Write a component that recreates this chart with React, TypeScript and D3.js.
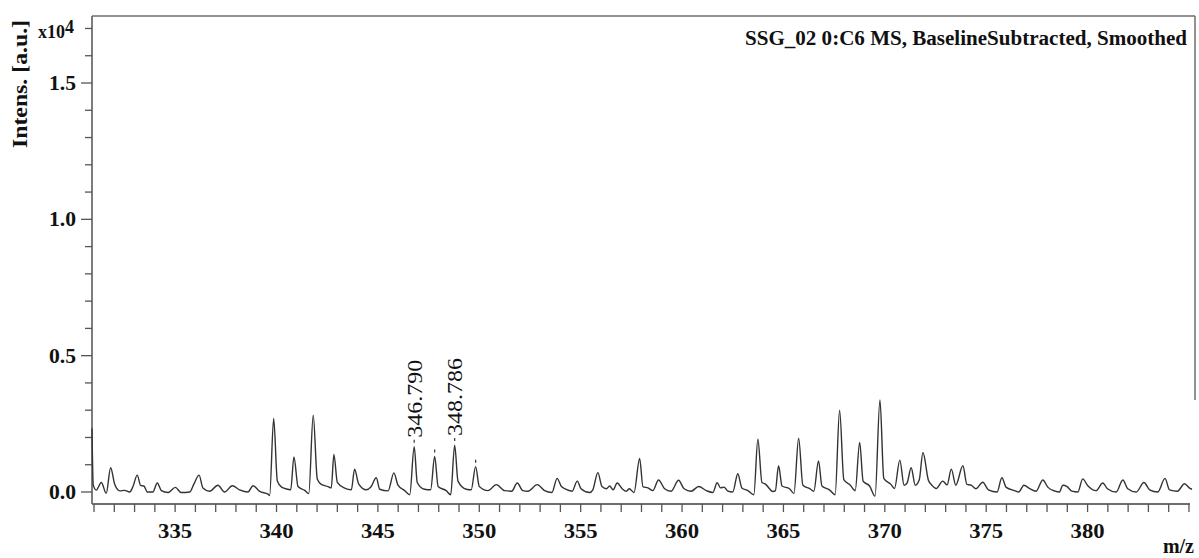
import React from "react";
import * as d3 from "d3";

// Mass spectrum trace: [m/z, intensity (x10^4 a.u.)]
const spectrum: [number, number][] = [
  [330.9, 0.233], [330.96, 0.026], [331.11, 0.007], [331.36, 0.035], [331.6, -0.005],
  [331.82, 0.089], [332.02, 0.028], [332.27, 0.004], [332.5, 0.006], [332.76, 0.0],
  [332.92, 0.02], [333.13, 0.062], [333.3, 0.024], [333.46, 0.022], [333.63, 0.0],
  [333.9, 0.0], [334.12, 0.033], [334.32, 0.005], [334.65, -0.002], [335.01, 0.017],
  [335.3, -0.002], [335.72, 0.0], [335.93, 0.03], [336.18, 0.062], [336.37, 0.015],
  [336.7, 0.003], [337.11, 0.025], [337.44, 0.0], [337.82, 0.023], [338.18, 0.008],
  [338.59, 0.0], [338.84, 0.023], [339.17, 0.002], [339.58, -0.008], [339.66, -0.013],
  [339.86, 0.27], [340.04, 0.04], [340.25, 0.018], [340.57, 0.01], [340.7, 0.008],
  [340.86, 0.129], [341.06, 0.02], [341.39, 0.006], [341.59, -0.006], [341.81, 0.282],
  [342.01, 0.048], [342.21, 0.028], [342.54, 0.02], [342.7, 0.015], [342.83, 0.138],
  [343.0, 0.035], [343.36, 0.014], [343.69, 0.008], [343.85, 0.084], [344.05, 0.03],
  [344.43, 0.008], [344.65, 0.018], [344.92, 0.052], [345.09, 0.01], [345.5, 0.004],
  [345.79, 0.07], [345.99, 0.025], [346.32, 0.005], [346.57, -0.01], [346.79, 0.166],
  [346.94, 0.035], [347.3, 0.01], [347.6, 0.008], [347.8, 0.13], [347.97, 0.02],
  [348.37, 0.005], [348.59, -0.01], [348.786, 0.172], [348.95, 0.04], [349.36, 0.01],
  [349.6, 0.008], [349.82, 0.093], [350.0, 0.02], [350.43, 0.005], [350.84, 0.027],
  [351.25, 0.005], [351.6, 0.003], [351.87, 0.033], [352.15, 0.005], [352.4, 0.003],
  [352.86, 0.027], [353.22, 0.005], [353.58, -0.002], [353.84, 0.05], [354.05, 0.02],
  [354.45, 0.005], [354.58, 0.003], [354.83, 0.04], [355.02, 0.012], [355.44, -0.002],
  [355.6, 0.008], [355.85, 0.071], [356.05, 0.02], [356.27, 0.012], [356.43, 0.022],
  [356.6, 0.008], [356.8, 0.033], [357.05, 0.012], [357.25, 0.003], [357.4, 0.012],
  [357.63, -0.002], [357.91, 0.123], [358.07, 0.02], [358.32, 0.015], [358.56, 0.005],
  [358.84, 0.044], [359.14, 0.012], [359.46, 0.003], [359.83, 0.043], [360.1, 0.012],
  [360.45, 0.003], [360.82, 0.02], [361.2, 0.005], [361.52, -0.002], [361.73, 0.034],
  [361.9, 0.015], [362.07, 0.018], [362.26, 0.003], [362.5, 0.0], [362.75, 0.067],
  [362.95, 0.015], [363.25, 0.005], [363.54, -0.01], [363.74, 0.194], [363.94, 0.035],
  [364.1, 0.03], [364.48, 0.002], [364.6, 0.004], [364.76, 0.096], [364.93, 0.022],
  [365.3, 0.012], [365.52, -0.005], [365.75, 0.197], [365.96, 0.025], [366.3, 0.012],
  [366.5, 0.003], [366.73, 0.114], [366.9, 0.022], [367.27, 0.008], [367.55, -0.01],
  [367.77, 0.3], [367.98, 0.045], [368.3, 0.025], [368.54, 0.005], [368.76, 0.182],
  [368.93, 0.04], [369.25, 0.022], [369.52, -0.015], [369.76, 0.338], [369.95, 0.05],
  [370.3, 0.028], [370.48, 0.013], [370.74, 0.117], [370.95, 0.025], [371.1, 0.033],
  [371.3, 0.089], [371.5, 0.025], [371.7, 0.045], [371.88, 0.145], [372.15, 0.043],
  [372.32, 0.025], [372.53, 0.013], [372.86, 0.04], [373.07, 0.026], [373.28, 0.084],
  [373.5, 0.025], [373.85, 0.096], [374.05, 0.028], [374.26, 0.025], [374.5, 0.012],
  [374.83, 0.036], [375.11, 0.008], [375.54, 0.0], [375.77, 0.052], [375.99, 0.017],
  [376.4, 0.005], [376.6, 0.0], [376.86, 0.025], [377.15, 0.012], [377.46, 0.003],
  [377.79, 0.044], [378.05, 0.017], [378.4, 0.003], [378.61, 0.0], [378.78, 0.025],
  [378.99, 0.02], [379.22, 0.003], [379.52, 0.0], [379.76, 0.048], [380.0, 0.024],
  [380.42, 0.005], [380.75, 0.033], [380.98, 0.012], [381.41, 0.0], [381.74, 0.044],
  [381.98, 0.012], [382.4, 0.0], [382.78, 0.035], [383.06, 0.008], [383.46, 0.0],
  [383.82, 0.05], [384.04, 0.008], [384.43, 0.003], [384.78, 0.03], [385.05, 0.013],
  [385.15, 0.01],
];

// Annotated peaks (m/z, apex intensity)
const labeledPeaks: [number, number][] = [
  [346.79, 0.166],
  [348.786, 0.172],
];
// Peaks flagged with a marker only
const markedPeaks: [number, number][] = [
  [347.8, 0.13],
  [349.82, 0.093],
];

const xMajorTicks = [335, 340, 345, 350, 355, 360, 365, 370, 375, 380];
const yMajorTicks = [0, 0.5, 1.0, 1.5];

const title = "SSG_02 0:C6 MS, BaselineSubtracted, Smoothed";
const yTitle = "Intens. [a.u.]";
const xTitle = "m/z";

const W = 1199;
const H = 558;
const FONT = "'Liberation Serif', 'Times New Roman', serif";

export default function App() {
  const x = d3.scaleLinear().domain([330.9, 385.15]).range([92, 1192]);
  const y = d3.scaleLinear().domain([0, 1.5]).range([492, 83]);
  const axisY = 504;
  const topY = 16;

  const line = d3
    .line<[number, number]>()
    .x((d) => x(d[0]))
    .y((d) => y(d[1]))
    .curve(d3.curveMonotoneX);

  const xMinor = d3.range(331, 386);
  const yMinor = d3.range(0, 18).map((i) => i / 10);

  const axisColor = "#6e6e6e";
  const tickColor = "#555";

  return (
    <svg
      width={W}
      height={H}
      style={{ position: "fixed", left: 0, top: 0, background: "#fff" }}
      fontFamily={FONT}
    >
      <rect x={0} y={0} width={W} height={H} fill="#fff" />

      {/* frame */}
      <line x1={92} x2={1195} y1={topY} y2={topY} stroke={axisColor} strokeWidth={1.5} />
      <line x1={1195} x2={1195} y1={topY} y2={400} stroke={axisColor} strokeWidth={1.5} />
      <line x1={92} x2={92} y1={topY} y2={axisY} stroke={axisColor} strokeWidth={1.8} />
      <line x1={92} x2={1190} y1={axisY} y2={axisY} stroke={axisColor} strokeWidth={1.8} />

      {/* y ticks */}
      {yMinor.map((v) => {
        const major = yMajorTicks.some((m) => Math.abs(m - v) < 1e-6);
        return (
          <line
            key={"yt" + v}
            x1={major ? 81 : 85}
            x2={92}
            y1={y(v)}
            y2={y(v)}
            stroke={tickColor}
            strokeWidth={1.3}
          />
        );
      })}
      {yMajorTicks.map((v) => (
        <text
          key={"yl" + v}
          x={76}
          y={y(v) + 7}
          textAnchor="end"
          fontSize={21}
          fontWeight="bold"
          textLength={27}
          lengthAdjust="spacingAndGlyphs"
          fill="#111"
        >
          {v.toFixed(1)}
        </text>
      ))}

      {/* x ticks */}
      {xMinor.map((v) => (
        <line
          key={"xt" + v}
          x1={x(v)}
          x2={x(v)}
          y1={axisY}
          y2={axisY + 8}
          stroke={tickColor}
          strokeWidth={1.3}
        />
      ))}
      {xMajorTicks.map((v) => (
        <text
          key={"xl" + v}
          x={x(v)}
          y={538}
          textAnchor="middle"
          fontSize={22}
          fontWeight="bold"
          textLength={34}
          lengthAdjust="spacingAndGlyphs"
          fill="#111"
        >
          {v}
        </text>
      ))}

      {/* spectrum */}
      <path d={line(spectrum) || ""} fill="none" stroke="#333" strokeWidth={1.4} strokeLinejoin="round" />

      {/* peak markers */}
      {[...labeledPeaks, ...markedPeaks].map(([m, v]) => (
        <line
          key={"pm" + m}
          x1={x(m)}
          x2={x(m)}
          y1={y(v) - 7}
          y2={y(v) - 4}
          stroke="#333"
          strokeWidth={1.2}
        />
      ))}
      {labeledPeaks.map(([m, v]) => (
        <text
          key={"pl" + m}
          transform={`translate(${x(m) + 7.5},${y(v) - 9}) rotate(-90)`}
          fontSize={21}
          textLength={78}
          lengthAdjust="spacingAndGlyphs"
          fill="#111"
        >
          {m.toFixed(3)}
        </text>
      ))}

      {/* titles */}
      <text
        x={1187}
        y={45}
        textAnchor="end"
        fontSize={20}
        fontWeight="bold"
        textLength={442}
        lengthAdjust="spacingAndGlyphs"
        fill="#111"
      >
        {title}
      </text>
      <text
        transform="translate(27,84) rotate(-90)"
        textAnchor="middle"
        fontSize={20}
        fontWeight="bold"
        textLength={128}
        lengthAdjust="spacingAndGlyphs"
        fill="#111"
      >
        {yTitle}
      </text>
      <text x={38} y={38} fontSize={18} fontWeight="bold" fill="#111">
        x10
        <tspan dy={-5} fontSize={18}>
          4
        </tspan>
      </text>
      <text x={1194} y={553} textAnchor="end" fontSize={20} fontWeight="bold" fill="#111">
        {xTitle}
      </text>
    </svg>
  );
}
